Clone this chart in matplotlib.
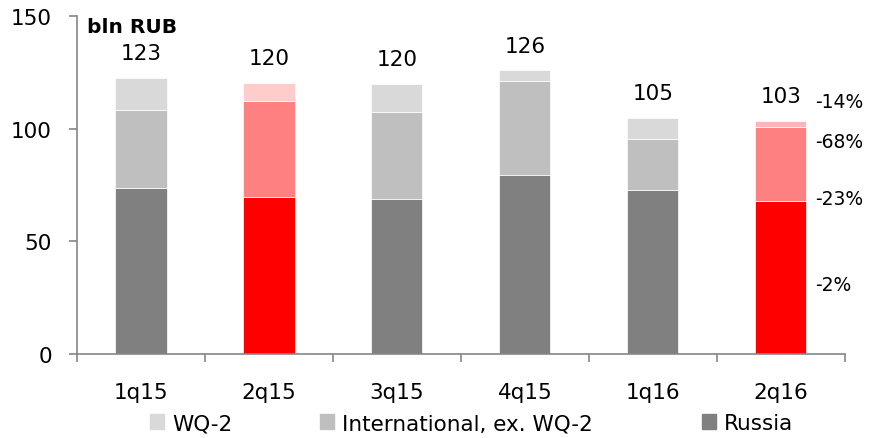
import numpy as np
import matplotlib
matplotlib.use('Agg')
import matplotlib.pyplot as plt
from matplotlib.patches import Patch

# chart data (bln RUB)
quarters = ['1q15', '2q15', '3q15', '4q15', '1q16', '2q16']
russia = [73.8, 69.8, 68.6, 79.3, 72.9, 68.1]
international = [34.6, 42.6, 39.0, 41.7, 22.5, 32.9]
wq2 = [14.3, 8.0, 12.4, 4.9, 9.5, 2.6]
totals = ['123', '120', '120', '126', '105', '103']
yoy_labels = ['-14%', '-68%', '-23%', '-2%']

# colours: grey for normal quarters, red shades for the compared quarters
grey_cols = ['#808080', '#BFBFBF', '#D9D9D9']
red_cols = {1: ['#FF0000', '#FF8080', '#FFCCCC'],
            5: ['#FF0000', '#FF8080', '#FFB5B5']}

plt.rcParams['font.family'] = 'DejaVu Sans'
fs = 15.5

fig = plt.figure(figsize=(8.7, 4.39), dpi=100)
ax = fig.add_axes([0.0885, 0.1913, 0.8825, 0.7697])

x = np.arange(len(quarters))
w = 0.4
bottom = np.zeros(len(quarters))
for k, vals in enumerate([russia, international, wq2]):
    cols = [red_cols[i][k] if i in red_cols else grey_cols[k] for i in range(len(quarters))]
    ax.bar(x, vals, w, bottom=bottom, color=cols, edgecolor='white', linewidth=0.5)
    bottom += np.array(vals)

# totals above bars
for i, t in enumerate(totals):
    ax.text(x[i], bottom[i] + 11, t, ha='center', va='center', fontsize=fs)

# y/y change labels next to the last bar
pct_y = [112, 94.5, 69, 31]
for lab, yy in zip(yoy_labels, pct_y):
    ax.text(5.27, yy, lab, ha='left', va='center', fontsize=13.5)

ax.text(-0.42, 145.5, 'bln RUB', ha='left', va='center', fontsize=14.5, fontweight='bold')

ax.set_xlim(-0.5, 5.5)
ax.set_ylim(0, 150)
ax.set_yticks([0, 50, 100, 150])
ax.set_xticks(x)
ax.set_xticklabels(quarters)
ax.set_xticks(np.arange(-0.5, 6.0, 1), minor=True)
ax.tick_params(axis='x', which='major', length=0, labelsize=fs, pad=20)
ax.tick_params(axis='x', which='minor', length=6, width=1.2, color='#868686')
ax.tick_params(axis='y', length=6, width=1.2, color='#868686', labelsize=fs, pad=12)

for s in ['top', 'right']:
    ax.spines[s].set_visible(False)
for s in ['left', 'bottom']:
    ax.spines[s].set_color('#868686')
    ax.spines[s].set_linewidth(1.2)

# legend entries placed one by one, like the original
names = ['WQ-2', 'International, ex. WQ-2', 'Russia']
leg_cols = [grey_cols[2], grey_cols[1], grey_cols[0]]
leg_x = [0.1724, 0.3678, 0.8069]
for name, col, lx in zip(names, leg_cols, leg_x):
    leg = fig.legend([Patch(color=col)], [name], loc='center left', bbox_to_anchor=(lx, 0.034),
                     bbox_transform=fig.transFigure, frameon=False, fontsize=fs,
                     handlelength=0.65, handleheight=0.65, handletextpad=0.37,
                     borderpad=0, borderaxespad=0)

fig.savefig('out.png', dpi=100)
